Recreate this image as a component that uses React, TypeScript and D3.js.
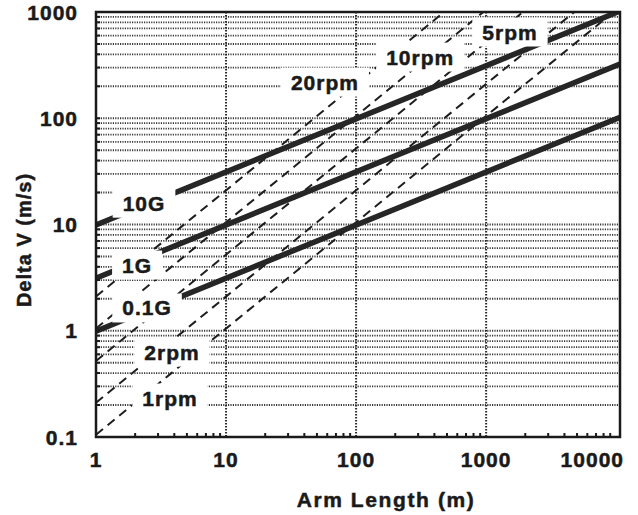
import React, { useRef, useEffect } from "react";
import * as d3 from "d3";

// arm length end points (m) shared by the straight lines
const gArm = [1, 10700];
const rpmArm = [1, 10000];

// constant-acceleration lines (solid), delta V (m/s) at the arm ends
const g10 = [9.9, 1020];
const g1 = [3.13, 324];
const g01 = [0.99, 102];

// constant spin-rate lines (dashed), delta V (m/s) at the arm ends
const rpm1 = [0.105, 1050];
const rpm2 = [0.21, 2100];
const rpm5 = [0.52, 5200];
const rpm10 = [1.05, 10500];
const rpm20 = [2.1, 21000];

const xTicks = [1, 10, 100, 1000, 10000];
const yTicks = [0.1, 1, 10, 100, 1000];

// label text and where it sits (arm length, delta V)
const labelNames = ["10G", "1G", "0.1G", "2rpm", "1rpm", "20rpm", "10rpm", "5rpm"];
const labelArm = [2.34, 2.07, 2.47, 3.84, 3.71, 57.6, 311, 1525];
const labelDv = [15.9, 4.16, 1.64, 0.63, 0.233, 219, 377, 649];

const FONT = "'Liberation Sans', Arial, Helvetica, sans-serif";
const INK = "#1a1a1a";

export default function App() {
  const ref = useRef<SVGSVGElement>(null);
  const width = 638;
  const height = 515;

  useEffect(() => {
    const svg = d3.select(ref.current);
    svg.selectAll("*").remove();

    const left = 96, right = 620, top = 12, bottom = 437;

    const x = d3.scaleLog().domain([1, 10700]).range([left, right]);
    const y = d3.scaleLog().domain([0.1, 1000]).range([bottom, top]);

    // bold scanned-looking text
    const ink = (sel: any, size: number, spacing: number) =>
      sel.attr("font-family", FONT)
        .attr("font-weight", "bold")
        .attr("font-size", size)
        .attr("letter-spacing", spacing)
        .attr("fill", INK)
        .attr("stroke", INK)
        .attr("stroke-width", 0.5);

    svg.append("rect").attr("width", width).attr("height", height).attr("fill", "#fff");

    svg.append("clipPath").attr("id", "plot")
      .append("rect")
      .attr("x", left).attr("y", top)
      .attr("width", right - left).attr("height", bottom - top);

    const g = svg.append("g").attr("clip-path", "url(#plot)");

    // horizontal dotted grid at every 1..9 step of each decade
    const hLines: number[] = [];
    for (let e = -1; e < 3; e++) {
      for (let m = 1; m < 10; m++) hLines.push(m * Math.pow(10, e));
    }
    const hGrid = hLines.filter(v => v > 0.1);
    g.append("g").selectAll("line").data(hGrid).join("line")
      .attr("x1", left).attr("x2", right)
      .attr("y1", d => y(d)).attr("y2", d => y(d))
      .attr("stroke", "#3a3a3a")
      .attr("stroke-width", 1.8)
      .attr("stroke-dasharray", "1.2 1.2");

    // vertical dotted grid at the decades
    g.append("g").selectAll("line").data([10, 100, 1000]).join("line")
      .attr("x1", d => x(d)).attr("x2", d => x(d))
      .attr("y1", top).attr("y2", bottom)
      .attr("stroke", "#2a2a2a")
      .attr("stroke-width", 2)
      .attr("stroke-dasharray", "1.5 1.5");

    const line = d3.line<[number, number]>()
      .x(d => x(d[0]))
      .y(d => y(d[1]));

    const pair = (arm: number[], dv: number[]) =>
      arm.map((a, i) => [a, dv[i]] as [number, number]);

    // dashed spin-rate lines
    [rpm1, rpm2, rpm5, rpm10, rpm20].forEach(dv => {
      g.append("path")
        .attr("d", line(pair(rpmArm, dv)))
        .attr("fill", "none")
        .attr("stroke", "#1e1e1e")
        .attr("stroke-width", 2)
        .attr("stroke-dasharray", "9 6");
    });

    // solid g-level lines
    [g10, g1, g01].forEach(dv => {
      g.append("path")
        .attr("d", line(pair(gArm, dv)))
        .attr("fill", "none")
        .attr("stroke", "#262626")
        .attr("stroke-width", 5.5)
        .attr("stroke-linecap", "round");
    });

    // labels on white boxes
    labelNames.forEach((name, i) => {
      const lg = svg.append("g");
      const box = lg.append("rect").attr("fill", "#fff");
      const t = lg.append("text")
        .attr("x", x(labelArm[i]))
        .attr("y", y(labelDv[i]))
        .attr("dy", "0.36em")
        .attr("text-anchor", "middle")
        .text(name);
      ink(t, 21, 1);
      const bb = (t.node() as SVGTextElement).getBBox();
      box.attr("x", bb.x - 10).attr("y", bb.y - 3)
        .attr("width", bb.width + 20).attr("height", bb.height + 6);
    });

    // frame
    svg.append("rect")
      .attr("x", left).attr("y", top)
      .attr("width", right - left).attr("height", bottom - top)
      .attr("fill", "none")
      .attr("stroke", INK)
      .attr("stroke-width", 2.5);

    // minor ticks inward on the bottom and left axes
    const xMinor: number[] = [];
    for (let e = 0; e < 4; e++) for (let m = 2; m < 10; m++) xMinor.push(m * Math.pow(10, e));
    svg.append("g").selectAll("line").data(xMinor).join("line")
      .attr("x1", d => x(d)).attr("x2", d => x(d))
      .attr("y1", bottom).attr("y2", bottom - 4)
      .attr("stroke", INK).attr("stroke-width", 2);
    svg.append("g").selectAll("line").data(hGrid).join("line")
      .attr("x1", left).attr("x2", left + 4)
      .attr("y1", d => y(d)).attr("y2", d => y(d))
      .attr("stroke", INK).attr("stroke-width", 2);

    // tick labels
    ink(
      svg.append("g").selectAll("text").data(xTicks).join("text")
        .attr("x", (d, i) => (i === xTicks.length - 1 ? 624 : x(d)))
        .attr("y", 467)
        .attr("text-anchor", (d, i) => (i === xTicks.length - 1 ? "end" : "middle"))
        .text(d => String(d)),
      21, 1
    );

    ink(
      svg.append("g").selectAll("text").data(yTicks).join("text")
        .attr("x", 78)
        .attr("y", d => y(d))
        .attr("dy", "0.36em")
        .attr("text-anchor", "end")
        .text(d => String(d)),
      21, 1
    );

    // axis titles
    ink(
      svg.append("text")
        .attr("x", 386).attr("y", 507)
        .attr("text-anchor", "middle")
        .text("Arm Length (m)"),
      21, 1.6
    );

    ink(
      svg.append("text")
        .attr("transform", "translate(31,240) rotate(-90)")
        .attr("text-anchor", "middle")
        .text("Delta V (m/s)"),
      20, 1
    );
  }, []);

  return (
    <svg
      ref={ref}
      width={width}
      height={height}
      style={{ position: "absolute", left: 0, top: 0 }}
    />
  );
}
